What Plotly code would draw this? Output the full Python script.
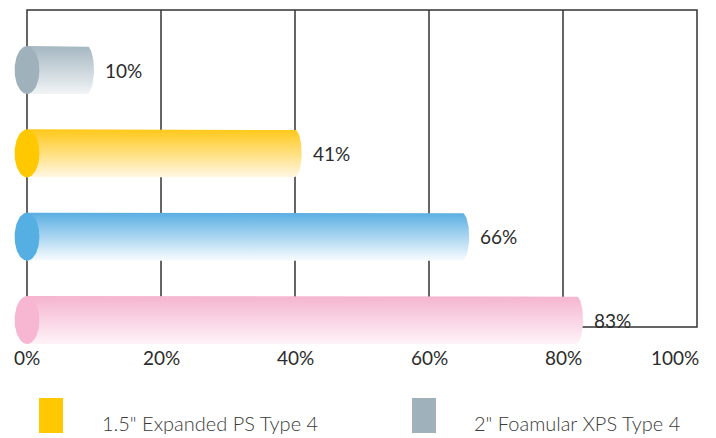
import numpy as np
import plotly.graph_objects as go

# ---- data ----
series_names = ['2" Foamular XPS Type 4', '1.5" Expanded PS Type 4', 'Series 3', 'Series 4']
values = [10, 41, 66, 83]
value_labels = ["10%", "41%", "66%", "83%"]
tick_vals = [0, 20, 40, 60, 80, 100]
tick_labels = ["0%", "20%", "40%", "60%", "80%", "100%"]
legend_order = [1, 0]

# ---- style ----
top_colors = ["#a5b7c1", "#ffc819", "#5aaee2", "#f5b4cf"]
bottom_colors = ["#f1f4f6", "#fff7e4", "#f9fcff", "#fef3f8"]
cap_colors = ["#9fb1bb", "#ffc800", "#56afe2", "#f7b6d1"]
legend_colors = {0: "#9fb1bb", 1: "#ffc800"}
FONT = "Lato, 'Open Sans', sans-serif"
TXT = "#2b2b2b"

OFF = 8  # page body margin
W, H = 708, 430
L, R, T, B = 2, 10, 1, 92
PW, PH = W - L - R, H - T - B
XR = [-2.537, 101.343]
YR = [3.312, -0.732]
HALF_H = 0.288      # bar half height (category units)
CAP_RX = 1.85       # left cap half width (x units)
END_RX = 1.1        # right end rounding (x units)


def px_x(px):
    return (px - OFF - L) / PW


def px_y(py):
    return (T + PH - (py - OFF)) / PH


fig = go.Figure()
t_right = np.linspace(-np.pi / 2, np.pi / 2, 40)
t_full = np.linspace(0, 2 * np.pi, 80)

for i, v in enumerate(values):
    yc = i
    xs = [0, v - END_RX] + list(v - END_RX + END_RX * np.cos(t_right)) + [v - END_RX, 0, 0]
    ys = [yc - HALF_H, yc - HALF_H] + list(yc + HALF_H * np.sin(t_right)) + [yc + HALF_H, yc + HALF_H, yc - HALF_H]
    fig.add_trace(go.Scatter(
        x=xs, y=ys, mode="lines", fill="toself",
        line=dict(width=0, color="rgba(0,0,0,0)"),
        fillgradient=dict(type="vertical",
                          colorscale=[[0, top_colors[i]], [1, bottom_colors[i]]],
                          start=yc - HALF_H, stop=yc + HALF_H),
        hoverinfo="skip", showlegend=False, name=series_names[i]))
    fig.add_trace(go.Scatter(
        x=list(CAP_RX * np.cos(t_full)), y=list(yc + HALF_H * np.sin(t_full)),
        mode="lines", fill="toself", fillcolor=cap_colors[i],
        line=dict(width=0, color="rgba(0,0,0,0)"),
        hoverinfo="skip", showlegend=False))
    fig.add_annotation(x=v, y=yc, text=value_labels[i], showarrow=False,
                       xanchor="left", yanchor="middle", xshift=9,
                       font=dict(family=FONT, size=19, color=TXT))

shapes = []
# frame and gridlines (behind bars)
frame_top = (10 - 70) / 83.33
frame_bot = (327 - 70) / 83.33
shapes.append(dict(type="rect", xref="x", yref="y", x0=0, x1=100, y0=frame_top, y1=frame_bot,
                   line=dict(color="#333333", width=1.5), layer="below"))
for tv in tick_vals[1:-1]:
    shapes.append(dict(type="line", xref="x", yref="y", x0=tv, x1=tv, y0=frame_top, y1=frame_bot,
                       line=dict(color="#333333", width=1.5), layer="below"))

# tick labels (annotations so the last one can sit inside the frame edge)
for k, (tv, tl) in enumerate(zip(tick_vals, tick_labels)):
    last = k == len(tick_vals) - 1
    fig.add_annotation(xref="x", yref="paper", x=tv, y=px_y(358), text=tl, showarrow=False,
                       xanchor="right" if last else "center", yanchor="middle",
                       xshift=4 if last else 0,
                       font=dict(family=FONT, size=19, color=TXT))

# legend (manual, large swatches)
leg_x = [(39, 100), (412, 472)]
for k, idx in enumerate(legend_order):
    sx, tx = leg_x[k]
    shapes.append(dict(type="rect", xref="paper", yref="paper",
                       x0=px_x(sx), x1=px_x(sx + 24), y0=px_y(433), y1=px_y(398),
                       fillcolor=legend_colors[idx], line=dict(width=0)))
    fig.add_annotation(xref="paper", yref="paper", x=px_x(tx), y=px_y(423),
                       text=series_names[idx], showarrow=False, xanchor="left", yanchor="middle",
                       font=dict(family=FONT, size=20, color="#3a3a3a", weight=300))

fig.update_layout(
    width=W, height=H,
    margin=dict(l=L, r=R, t=T, b=B),
    paper_bgcolor="white", plot_bgcolor="white",
    shapes=shapes, showlegend=False,
    xaxis=dict(range=XR, showticklabels=False, showgrid=False,
               zeroline=False, showline=False, ticks="", fixedrange=True),
    yaxis=dict(range=YR, visible=False, showgrid=False, zeroline=False, fixedrange=True),
)

fig.write_html("out.html")
